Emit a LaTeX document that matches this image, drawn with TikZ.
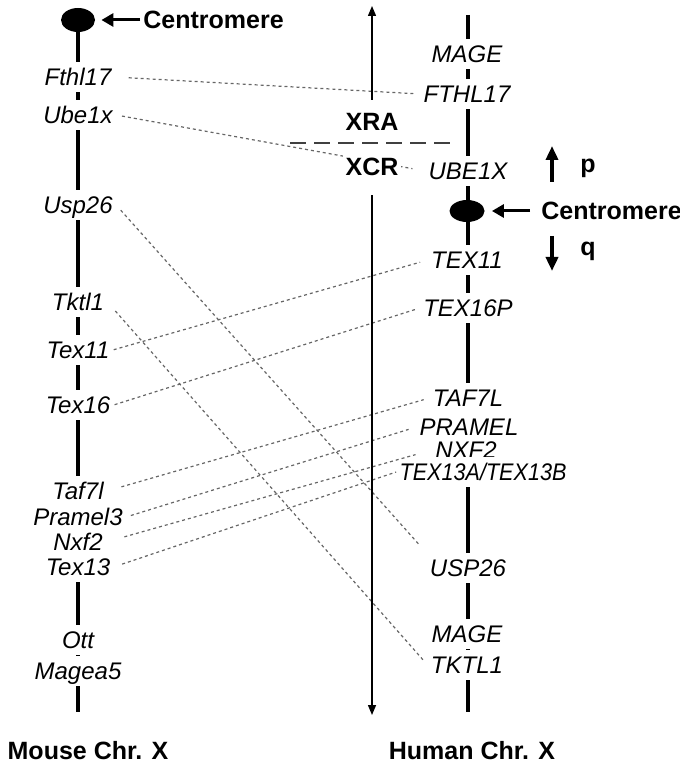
\documentclass[tikz,border=0pt]{standalone}
\usepackage{fontspec}
\setmainfont{Liberation Sans}
\usepackage{graphicx}
\usetikzlibrary{positioning,arrows.meta,shapes.geometric}

\begin{document}
\begin{tikzpicture}[x=0.5pt,y=-0.5pt,
  gene/.style={font=\itshape\fontsize{12}{14}\selectfont,fill=white,inner xsep=1.5pt,inner ysep=3pt,text height=8.6pt,text depth=0pt},
  tag/.style={font=\bfseries\fontsize{12.5}{15}\selectfont,inner sep=1.5pt},
  centro/.style={ellipse,fill=black,minimum width=17pt,minimum height=12pt,inner sep=0pt},
  chrom/.style={line width=2pt},
  link/.style={draw=black!60,line width=0.6pt,dash pattern=on 1.5pt off 1.5pt},
  pointer/.style={line width=1.5pt,-{Triangle[length=6pt,width=6.5pt]}},
  armarrow/.style={line width=1.8pt,-{Triangle[length=7pt,width=6pt]}},
  region/.style={line width=0.7pt,-{Triangle[length=5pt,width=4pt]}}]
	\useasboundingbox (0,0) rectangle (679,764);

	% mouse X
	\coordinate (mend) at (78,712);
	\node[centro] (mcen) at (78,20) {};
	\draw[chrom] (mcen.center) -- (mend);
	\node[tag,anchor=west] (mcentext) at (140,20) {Centromere};
	\draw[pointer,shorten >=3pt] (mcentext) -- (mcen);
	\node[gene] (mFthl) at (78,77) {Fthl17};
	\node[gene] (mUbe) at (78,115) {Ube1x};
	\node[gene] (mUsp) at (78,205) {Usp26};
	\node[gene] (mTkt) at (78,302) {Tktl1};
	\node[gene] (mTexa) at (78,350) {Tex11};
	\node[gene] (mTexb) at (78,405) {Tex16};
	\node[gene] (mTaf) at (78,491) {Taf7l};
	\node[gene] (mPram) at (78,517) {Pramel3};
	\node[gene] (mNxf) at (78,542) {Nxf2};
	\node[gene] (mTexc) at (78,567) {Tex13};
	\node[gene] (mOtt) at (78,640) {Ott};
	\node[gene] (mMag) at (78,671) {Magea5};
	\node[tag] (mname) at (88,751) {Mouse Chr. X};

	% human X
	\coordinate (htop) at (468,15);
	\coordinate (hend) at (468,712);
	\draw[chrom] (htop) -- (hend);
	\node[centro,minimum width=17.5pt,minimum height=11pt] (hcen) at (467,211) {};
	\node[tag,anchor=west] (hcentext) at (538,211) {Centromere};
	\draw[pointer,shorten <=4pt,shorten >=3.5pt] (hcentext) -- (hcen);
	\node[gene] (hMaga) at (467,54) {MAGE};
	\node[gene] (hFthl) at (467,94) {FTHL17};
	\node[gene] (hUbe) at (468,171) {UBE1X};
	\node[gene] (hTexa) at (467,260) {TEX11};
	\node[gene] (hTexb) at (468,308) {TEX16P};
	\node[gene] (hTaf) at (468,398) {TAF7L};
	\node[gene] (hPram) at (469,427) {PRAMEL};
	\node[gene] (hNxf) at (466,450) {NXF2};
	\node[gene] (hTexc) at (483,472) {\scalebox{0.9}[1]{TEX13A/TEX13B}};
	\node[gene] (hUsp) at (468,568) {USP26};
	\node[gene] (hMagb) at (467,634) {MAGE};
	\node[gene] (hTkt) at (467,665) {TKTL1};
	\node[tag] (hname) at (472,751) {Human Chr. X};

	\coordinate (pbot) at (552,182);
	\coordinate (ptop) at (552,146);
	\draw[armarrow] (pbot) -- (ptop);
	\node[tag,anchor=base west] (parm) at (577,173) {p};
	\coordinate (qtop) at (552,236);
	\coordinate (qbot) at (552,271);
	\draw[armarrow] (qtop) -- (qbot);
	\node[tag,anchor=base west] (qarm) at (577,256) {q};

	% homologous genes
	\draw[link,shorten <=7pt,shorten >=3.5pt] (mFthl.east) -- (hFthl.west);
	\draw[link,shorten <=3pt,shorten >=6.5pt] (mUbe.east) -- (hUbe.west);
	\draw[link,shorten <=3.5pt,shorten >=5pt] (mUsp.east) -- (hUsp.north west);
	\draw[link,shorten <=6pt,shorten >=3pt] (mTkt.east) -- (hTkt.west);
	\draw[link,shorten <=0.5pt,shorten >=4pt] (mTexa.east) -- (hTexa.west);
	\draw[link,shorten <=0.5pt,shorten >=1.5pt] (mTexb.east) -- (hTexb.west);
	\draw[link,shorten <=7.5pt,shorten >=3pt] (mTaf.east) -- (hTaf.west);
	\draw[link,shorten <=2.5pt,shorten >=4pt] (mPram.east) -- (hPram.west);
	\draw[link,shorten <=9.5pt,shorten >=8.5pt] (mNxf.east) -- (hNxf.west);
	\draw[link,shorten <=4.5pt,shorten >=0pt] (mTexc.east) -- (hTexc.west);

	% XRA / XCR
	\coordinate (bl) at (290,143);
	\coordinate (br) at (453,143);
	\draw[line width=1pt,black!75,dash pattern=on 8pt off 4pt] (bl) -- (br);
	\node[tag] (xra) at (372,122) {XRA};
	\node[tag,fill=white] (xcr) at (372,167) {XCR};
	\coordinate (atop) at (372,6);
	\coordinate (abot) at (372,715);
	\draw[region,shorten <=5pt] (xra.north) -- (atop);
	\draw[region,shorten <=8pt] (xcr.south) -- (abot);
\end{tikzpicture}
\end{document}
